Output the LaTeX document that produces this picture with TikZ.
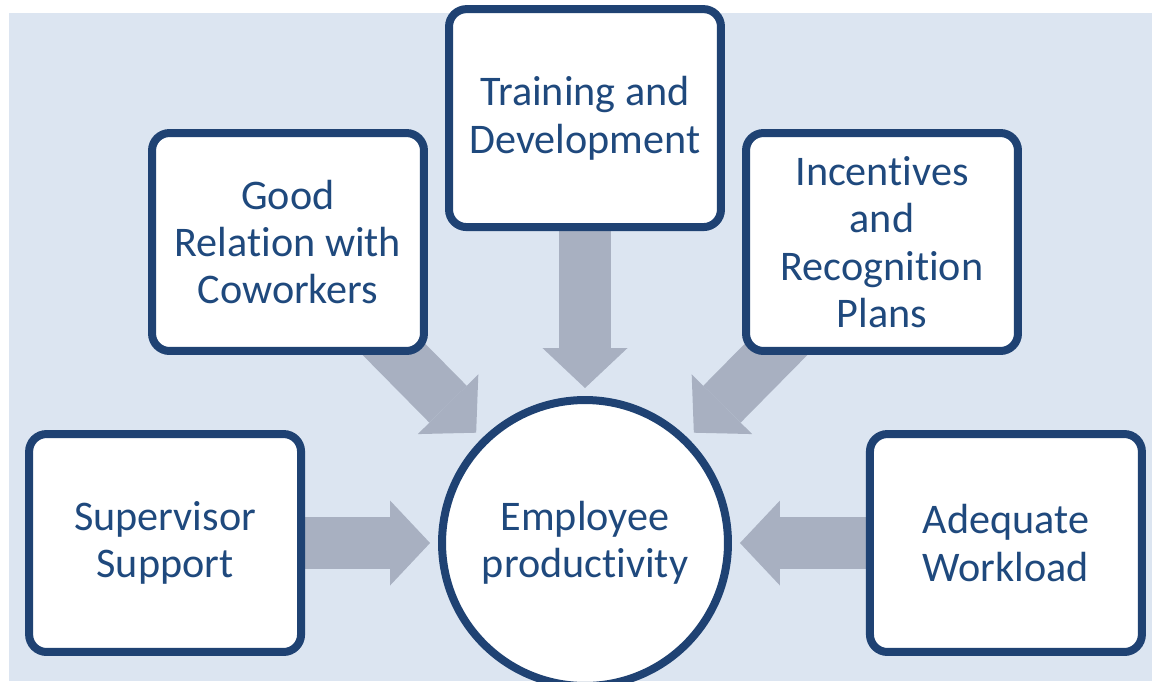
\documentclass[tikz,border=0pt]{standalone}
\usepackage{fontspec}
\setmainfont{Carlito}[Ligatures=NoCommon]
\usetikzlibrary{arrows.meta,positioning,shadows}
\definecolor{navy}{RGB}{31,66,115}
\definecolor{textblue}{RGB}{31,73,125}
\definecolor{canvasblue}{RGB}{220,229,241}
\definecolor{arrowgrey}{RGB}{168,176,193}
\pgfdeclarelayer{canvas}
\pgfdeclarelayer{under}
\pgfsetlayers{canvas,under,main}

\begin{document}
\begin{tikzpicture}[x=0.02cm, y=-0.02cm, every node/.style={font=\fontsize{24}{27}\selectfont, text=textblue, align=center}]
% styles
\tikzstyle{factor}=[rectangle,draw=navy,line width=0.16cm,fill=white,rounded corners=0.35cm,minimum width=5.44cm,minimum height=4.36cm,drop shadow={opacity=0.18,shadow xshift=0.05cm,shadow yshift=-0.05cm}]
\tikzstyle{target}=[circle,draw=navy,line width=0.16cm,fill=white,minimum size=5.72cm]
\tikzstyle{push}=[line width=1.05cm,arrowgrey,-{Triangle[length=0.8cm,width=1.7cm,line width=0pt]},shorten >=0.16cm]

\useasboundingbox (0,0) rectangle (1152,681);

% canvas
\begin{pgfonlayer}{canvas}
\fill[canvasblue] (9,13) rectangle (1152,681);
\end{pgfonlayer}

% centre
\node[target] (emp) at (585,543) {Employee\\productivity};

% factors
\node[factor,left=2.66cm of emp] (sup) {Supervisor\\Support};
\node[factor,right=2.68cm of emp] (adeq) {Adequate\\Workload};
\node[factor,above=3.3cm of emp] (train) {Training and\\Development};
\node[factor] (good) at (288,242) {Good\\Relation with\\Coworkers};
\node[factor] (incent) at (882,242) {Incentives\\and\\Recognition\\Plans};

% arrows into the centre
\begin{pgfonlayer}{under}
\foreach \f in {sup,good,train,incent,adeq}
  \draw[push] (\f.center) -- (emp);
\end{pgfonlayer}

\end{tikzpicture}
\end{document}
